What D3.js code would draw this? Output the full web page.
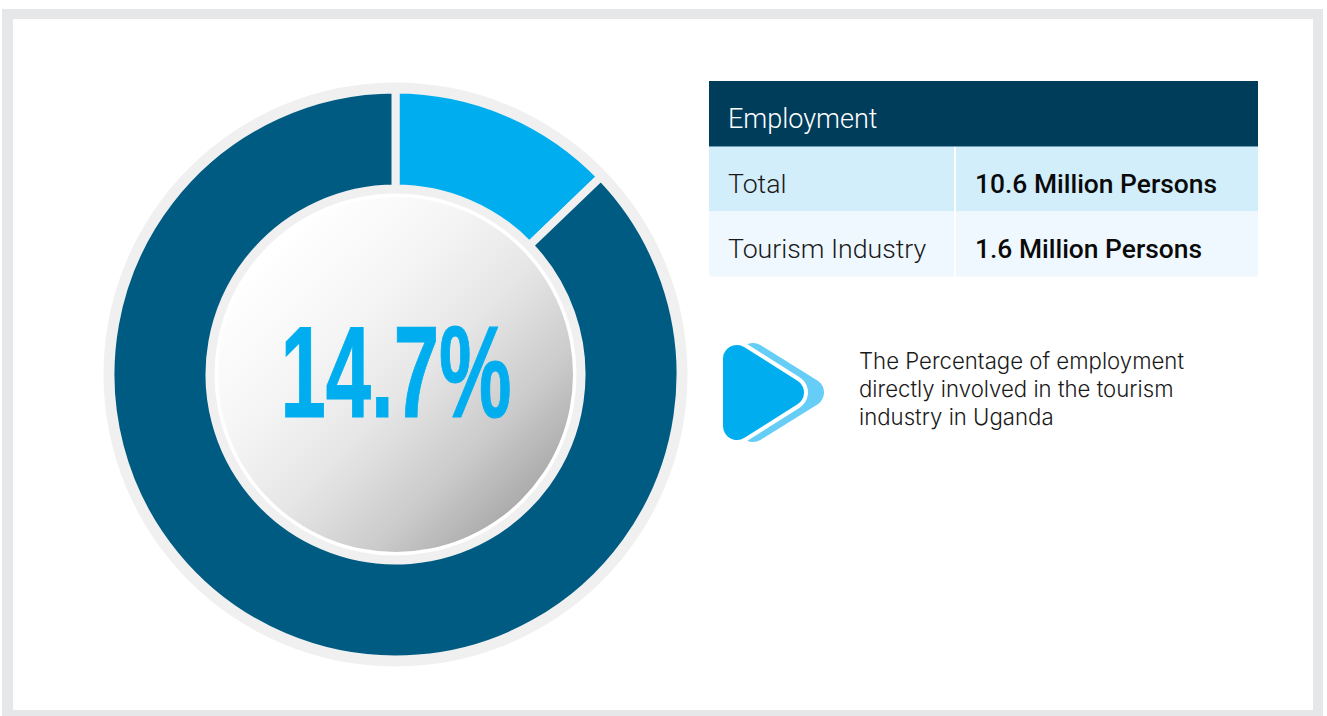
<!DOCTYPE html>
<html>
<head>
<meta charset="utf-8">
<script src="https://cdnjs.cloudflare.com/ajax/libs/d3/7.8.5/d3.min.js"></script>
<style>
html,body{margin:0;padding:0;background:#fff;overflow:hidden}
svg{display:block}
text{font-family:Roboto,sans-serif}
</style>
</head>
<body>
<svg id="chart" width="1327" height="716"></svg>
<script>
// Slice shares as drawn in the picture (the blue wedge spans about 46 degrees)
const sliceNames = ["Tourism industry", "Other employment"];
const sliceShares = [12.8, 87.2];
const sliceColors = ["#00aeef", "#005b82"];
const centerLabel = "14.7%";
const tableTitle = "Employment";
const rowLabels = ["Total", "Tourism Industry"];
const rowValues = ["10.6 Million Persons", "1.6 Million Persons"];
const rowColors = ["#d2eefb", "#eff8fe"];
const noteLines = ["The Percentage of employment", "directly involved in the tourism", "industry in Uganda"];

const svg = d3.select("#chart");
const defs = svg.append("defs");
const grad = defs.append("linearGradient").attr("id", "ball")
  .attr("x1", "15%").attr("y1", "15%").attr("x2", "85%").attr("y2", "85%");
[[0, "#ffffff"], [0.3, "#f6f5f5"], [0.55, "#e6e6e6"], [0.8, "#cccccc"], [1, "#adadad"]].forEach(([o, c]) =>
  grad.append("stop").attr("offset", o).attr("stop-color", c));

// Frame
svg.append("rect").attr("x", 2).attr("y", 9).attr("width", 1321).attr("height", 707).attr("fill", "#e6e7e9");
svg.append("rect").attr("x", 13).attr("y", 19).attr("width", 1300).attr("height", 691).attr("fill", "#fff");

// Donut
const cx = 395.5, cy = 374.5, ringGrey = "#f0f0f1";
const g = svg.append("g").attr("transform", `translate(${cx},${cy})`);
g.append("circle").attr("r", 292).attr("fill", ringGrey);
const pie = d3.pie().sort(null).value(d => d);
const arc = d3.arc().innerRadius(186).outerRadius(285);
g.selectAll("path.slice").data(pie(sliceShares)).join("path")
  .attr("class", "slice")
  .attr("d", arc)
  .attr("fill", (d, i) => sliceColors[i])
  .attr("stroke", ringGrey)
  .attr("stroke-width", 8)
  .attr("stroke-linejoin", "miter");
g.append("circle").attr("r", 182).attr("fill", ringGrey);
g.append("circle").attr("r", 181).attr("fill", "#fff");
g.append("circle").attr("r", 177.5).attr("fill", "url(#ball)");
g.append("text").attr("x", 0.5).attr("y", 42).attr("text-anchor", "middle")
  .attr("fill", "#00aeef").attr("stroke", "#00aeef").attr("stroke-width", 1.2)
  .style("font-family", "'Liberation Sans Narrow','Liberation Sans',sans-serif")
  .style("font-weight", 700).style("font-size", "129px")
  .attr("textLength", 231).attr("lengthAdjust", "spacingAndGlyphs")
  .text(centerLabel);

// Table
const tx = 709, tw = 549, divX = 955;
const table = svg.append("g");
table.append("rect").attr("x", tx).attr("y", 81).attr("width", tw).attr("height", 65.5).attr("fill", "#003d5b");
table.append("text").attr("x", 728).attr("y", 128).attr("fill", "#fff")
  .style("font-size", "27px").style("font-weight", 300).text(tableTitle);
const rowY = d3.scaleBand().domain(rowLabels).range([146.5, 276.5]);
const rows = table.selectAll("g.row").data(rowLabels).join("g").attr("class", "row");
rows.append("rect").attr("x", tx).attr("y", d => rowY(d)).attr("width", tw).attr("height", rowY.bandwidth())
  .attr("fill", (d, i) => rowColors[i]);
rows.append("text").attr("x", 728).attr("y", d => rowY(d) + 46.5).attr("fill", "#1a1a1a")
  .style("font-size", "26.7px").style("font-weight", 300).text(d => d);
rows.append("text").attr("x", 975).attr("y", d => rowY(d) + 46.5).attr("fill", "#0a0a0a")
  .style("font-size", "26.4px").style("font-weight", 500).text((d, i) => rowValues[i]);
table.append("rect").attr("x", divX - 1).attr("y", 146.5).attr("width", 2).attr("height", 130).attr("fill", "#fff");
table.append("rect").attr("x", tx).attr("y", 146).attr("width", tw).attr("height", 1).attr("fill", "#6f9db5");

// Play icon
const tri = d3.line().curve(d3.curveLinearClosed);
const icon = svg.append("g").attr("stroke-linejoin", "round");
icon.append("path").attr("d", tri([[753, 357], [810, 392.5], [753, 428]]))
  .attr("fill", "#66cef6").attr("stroke", "#66cef6").attr("stroke-width", 28);
icon.append("path").attr("d", tri([[737, 359], [790, 392.5], [737, 426]]))
  .attr("fill", "#fff").attr("stroke", "#fff").attr("stroke-width", 36);
icon.append("path").attr("d", tri([[737, 359], [790, 392.5], [737, 426]]))
  .attr("fill", "#00aeef").attr("stroke", "#00aeef").attr("stroke-width", 28);

// Note
svg.append("g").selectAll("text").data(noteLines).join("text")
  .attr("x", 859).attr("y", (d, i) => 369 + i * 28)
  .attr("fill", "#1a1a1a").style("font-family", "Inter,sans-serif")
  .style("font-size", "22.2px").style("font-weight", 300)
  .text(d => d);
</script>
</body>
</html>
